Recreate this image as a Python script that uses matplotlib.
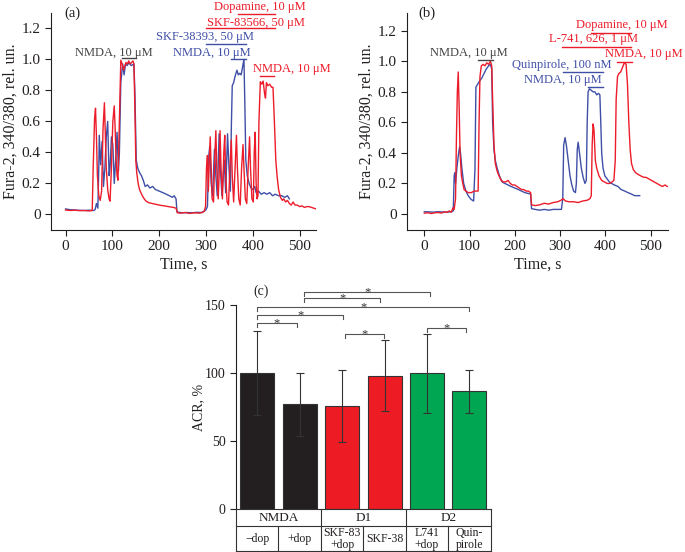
import numpy as np
import matplotlib.pyplot as plt

plt.rcParams['font.family'] = ['Liberation Serif', 'DejaVu Serif']

BLUE = '#3f4fa6'
RED = '#ec1c2a'
DARK = '#231f20'

# ---- panel (a): time (s) / Fura-2 ratio
a_red_t = [0, 10, 20, 30, 40, 50, 57, 59, 62, 64, 66, 68, 71, 74, 77, 80, 83, 85, 87, 90, 93, 95,
           98, 101, 104, 106, 108, 110, 112, 115, 118, 121, 124, 126, 129, 132, 135, 138, 141, 144,
           146, 148, 150, 152, 155, 158, 161, 164, 168, 172, 178, 185, 193, 200, 210, 220, 230, 236,
           239, 245, 255, 265, 275, 285, 292, 296, 299, 301, 303, 305, 307, 309, 311, 313, 316, 319,
           321, 323, 326, 328, 330, 332, 335, 338, 340, 342, 345, 348, 351, 354, 356, 359, 362, 365,
           367, 370, 373, 376, 379, 381, 384, 387, 390, 393, 395, 398, 401, 403, 405, 407, 409, 411,
           413, 416, 419, 422, 425, 427, 429, 432, 436, 440, 443, 446, 449, 452, 455, 459, 463, 466,
           470, 474, 478, 482, 486, 490, 495, 500, 505, 510, 515, 520, 525, 530, 535]
a_red_v = [0.028, 0.025, 0.027, 0.024, 0.025, 0.022, 0.025, 0.3, 0.62, 0.685, 0.5, 0.25, 0.12, 0.09,
           0.15, 0.55, 0.72, 0.5, 0.3, 0.16, 0.1, 0.085, 0.3, 0.6, 0.7, 0.55, 0.35, 0.25, 0.22, 0.6,
           0.995, 0.97, 0.93, 0.95, 0.98, 0.97, 0.99, 0.97, 0.98, 0.99, 0.97, 0.7, 0.35, 0.27, 0.2,
           0.16, 0.14, 0.12, 0.1, 0.085, 0.075, 0.07, 0.065, 0.06, 0.055, 0.05, 0.045, 0.04, 0.01,
           0.008, 0.012, 0.006, 0.01, 0.008, 0.012, 0.02, 0.05, 0.3, 0.38, 0.15, 0.35, 0.5, 0.3,
           0.1, 0.08, 0.4, 0.54, 0.3, 0.1, 0.25, 0.54, 0.3, 0.1, 0.4, 0.51, 0.25, 0.08, 0.06, 0.3,
           0.48, 0.25, 0.08, 0.3, 0.51, 0.3, 0.1, 0.06, 0.3, 0.45, 0.3, 0.1, 0.07, 0.3, 0.5, 0.3,
           0.1, 0.08, 0.4, 0.53, 0.2, 0.1, 0.12, 0.6, 0.856, 0.84, 0.86, 0.78, 0.75, 0.85, 0.83, 0.84,
           0.82, 0.82, 0.6, 0.35, 0.24, 0.16, 0.11, 0.09, 0.1, 0.08, 0.09, 0.07, 0.06, 0.08, 0.06,
           0.06, 0.05, 0.055, 0.045, 0.05, 0.05, 0.045, 0.04, 0.035]

a_blue_t = [0, 10, 20, 30, 40, 50, 60, 63, 66, 69, 71, 72, 75, 78, 81, 84, 87, 90, 93, 95, 98, 101,
            104, 107, 110, 113, 115, 118, 122, 125, 128, 132, 135, 140, 146, 148, 151, 154, 158, 162,
            166, 170, 175, 180, 186, 192, 200, 208, 215, 222, 228, 232, 236, 238, 250, 260, 270, 280,
            290, 296, 300, 303, 306, 308, 311, 314, 318, 321, 324, 328, 331, 334, 339, 342, 346, 349,
            352, 354, 356, 359, 362, 366, 369, 372, 375, 378, 381, 383, 385, 388, 392, 396, 400, 404,
            407, 412, 418, 424, 430, 436, 442, 448, 455, 462, 468, 474, 478]
a_blue_v = [0.035, 0.03, 0.028, 0.026, 0.025, 0.027, 0.025, 0.03, 0.07, 0.04, 0.3, 0.51, 0.32, 0.47,
            0.18, 0.3, 0.5, 0.6, 0.25, 0.3, 0.5, 0.45, 0.2, 0.35, 0.53, 0.28, 0.4, 0.85, 0.97, 0.9,
            0.97, 0.96, 0.98, 0.96, 0.97, 0.8, 0.35, 0.3, 0.27, 0.25, 0.22, 0.18, 0.19, 0.17, 0.18,
            0.16, 0.15, 0.14, 0.13, 0.12, 0.11, 0.12, 0.1, 0.015, 0.01, 0.012, 0.01, 0.013, 0.012,
            0.02, 0.03, 0.05, 0.38, 0.44, 0.2, 0.12, 0.42, 0.25, 0.12, 0.52, 0.28, 0.12, 0.35, 0.14,
            0.52, 0.3, 0.15, 0.55, 0.83, 0.85, 0.89, 0.93, 0.9, 0.91, 0.9, 0.95, 1.0, 0.7, 0.35, 0.25,
            0.2, 0.17, 0.16, 0.18, 0.14, 0.15, 0.13, 0.14, 0.13, 0.14, 0.12, 0.13, 0.12, 0.12, 0.11,
            0.12, 0.1]

# ---- panel (b)
b_red_t = [0, 8, 15, 22, 30, 38, 45, 50, 55, 60, 63, 66, 69, 71, 73, 75, 77, 79, 82, 85, 88, 92, 97,
           104, 110, 116, 119, 121, 123, 126, 130, 134, 138, 142, 146, 149, 151, 154, 157, 161, 165,
           170, 175, 180, 185, 190, 195, 200, 205, 210, 215, 220, 225, 230, 235, 237, 245, 255, 265,
           275, 285, 295, 302, 307, 312, 320, 330, 340, 350, 360, 366, 369, 371, 373, 375, 378, 381,
           386, 392, 398, 404, 410, 415, 419, 422, 424, 427, 430, 434, 438, 442, 446, 449, 452, 455,
           458, 462, 467, 472, 478, 485, 490, 496, 502, 508, 514, 520, 526, 532, 537]
b_red_v = [0.005, 0.008, 0.003, 0.007, 0.01, 0.006, 0.015, 0.01, 0.02, 0.012, 0.04, 0.03, 0.1, 0.5,
           0.8, 0.93, 0.7, 0.4, 0.25, 0.2, 0.16, 0.15, 0.14, 0.14, 0.15, 0.15, 0.15, 0.6, 0.9, 0.97,
           0.98, 0.97, 0.99, 0.98, 1.0, 0.97, 0.75, 0.45, 0.33, 0.28, 0.25, 0.22, 0.21, 0.21, 0.22,
           0.2, 0.19, 0.19, 0.18, 0.17, 0.16, 0.16, 0.15, 0.15, 0.14, 0.06, 0.055, 0.06, 0.07, 0.065,
           0.075, 0.08, 0.09, 0.1, 0.085, 0.08, 0.08, 0.075, 0.085, 0.09, 0.1, 0.12, 0.45, 0.59, 0.55,
           0.35, 0.3, 0.25, 0.22, 0.21, 0.2, 0.2, 0.21, 0.22, 0.35, 0.75, 0.9, 0.92, 0.93, 0.96, 0.99,
           0.98, 0.85, 0.6, 0.42, 0.33, 0.29, 0.27, 0.26, 0.25, 0.24, 0.24, 0.23, 0.22, 0.21, 0.2,
           0.19, 0.18, 0.19, 0.18]

b_blue_t = [0, 10, 20, 30, 40, 50, 60, 64, 66, 67.5, 69, 72, 75, 78, 80, 83, 87, 92, 97, 102, 106,
            109, 112, 114, 118, 122, 127, 132, 137, 142, 146, 149, 151, 154, 157, 161, 166, 172, 178,
            185, 192, 200, 208, 215, 222, 229, 235, 237, 245, 255, 265, 275, 285, 295, 303, 306, 308,
            311, 314, 318, 322, 326, 330, 334, 336, 338, 340, 343, 347, 351, 355, 358, 360, 362, 365,
            369, 373, 377, 381, 385, 388, 390, 392, 395, 399, 404, 409, 414, 420, 428, 435, 443, 450,
            458, 465, 471, 476]
b_blue_v = [0.015, 0.014, 0.012, 0.015, 0.013, 0.012, 0.015, 0.02, 0.25, 0.27, 0.2, 0.3, 0.38, 0.44,
            0.4, 0.3, 0.2, 0.15, 0.12, 0.1, 0.09, 0.085, 0.3, 0.83, 0.85, 0.87, 0.89, 0.92, 0.95, 0.97,
            0.98, 0.95, 0.6, 0.42, 0.35, 0.3, 0.25, 0.21, 0.2, 0.19, 0.18, 0.17, 0.16, 0.15, 0.14,
            0.135, 0.13, 0.035, 0.03, 0.025, 0.03, 0.025, 0.03, 0.03, 0.03, 0.1, 0.45, 0.5, 0.45,
            0.35, 0.25, 0.19, 0.15, 0.14, 0.2, 0.42, 0.47, 0.4, 0.3, 0.24, 0.2, 0.22, 0.6, 0.8, 0.82,
            0.81, 0.8, 0.8, 0.78, 0.79, 0.78, 0.6, 0.4, 0.3, 0.25, 0.23, 0.21, 0.2, 0.19, 0.18, 0.16,
            0.15, 0.14, 0.13, 0.12, 0.12, 0.12]

# ---- panel (c)
c_means = [100, 77, 76, 98, 100, 86.5]
c_sd = [31, 23, 26.5, 26, 29, 15.5]
c_colors = [DARK, DARK, '#ed1c24', '#ed1c24', '#00a651', '#00a651']
c_groups = ['NMDA', 'D1', 'D2']
c_labels = ['\u2212dop', '+dop', 'SKF-83\n+dop', 'SKF-38', 'L741\n+dop', 'Quin-\npirole']
sig_x1 = [0, 0, 0, 1.1, 1.1, 2.08, 4.0]
sig_x2 = [0.93, 2.02, 5.0, 2.9, 4.08, 2.99, 4.93]
sig_y = [137, 142.7, 148.3, 155, 159.8, 128.7, 132.9]

fig = plt.figure(figsize=(6.85, 5.52), dpi=100)


def style_trace_axes(ax, xmax, xmin):
    for s in ['top', 'right']:
        ax.spines[s].set_visible(False)
    for s in ['left', 'bottom']:
        ax.spines[s].set_color(DARK)
        ax.spines[s].set_linewidth(0.8)
    ax.set_xlim(xmin, xmax)
    ax.set_xticks([0, 100, 200, 300, 400, 500])
    ax.set_yticks([0, 0.2, 0.4, 0.6, 0.8, 1.0, 1.2])
    ax.set_yticklabels(['0', '0.2', '0.4', '0.6', '0.8', '1.0', '1.2'])
    ax.tick_params(direction='out', length=4, width=0.8, colors=DARK, labelsize=11)
    ax.set_xlabel('Time, s', fontsize=11.5, color=DARK)
    ax.set_ylabel('Fura-2, 340/380, rel. un.', fontsize=11.5, color=DARK)
    ax.xaxis.set_label_coords(0.5, -0.123)
    ax.xaxis.label.set_va('top')
    ax.yaxis.set_label_coords(-0.124, 0.5)


def mark(ax, text, tx, ty, t0, t1, y, color):
    ax.text(tx, ty, text, color=color, fontsize=9, ha='center', va='center')
    ax.plot([t0, t1], [y, y], color=color, lw=1.0, clip_on=False)


# (a)
ax1 = fig.add_axes([0.0745, 0.5833, 0.3869, 0.3931])
ax1.plot(a_blue_t, a_blue_v, color=BLUE, lw=1.0)
ax1.plot(a_red_t, a_red_v, color=RED, lw=1.0)
ax1.set_ylim(-0.101, 1.299)
style_trace_axes(ax1, 535, -31)
ax1.text(15.5, 1.3, '(a)', fontsize=10.5, ha='center', va='center', color=DARK)
mark(ax1, 'NMDA, 10 \u03bcM', 102.6, 1.04, 120, 151, 1.006, '#444444')
mark(ax1, 'SKF-38393, 50 \u03bcM', 297.5, 1.146, 300, 386, 1.099, BLUE)
mark(ax1, 'NMDA, 10 \u03bcM', 312, 1.043, 353, 386, 1.002, BLUE)
mark(ax1, 'Dopamine, 10 \u03bcM', 414.6, 1.339, 369, 447, 1.29, RED)
mark(ax1, 'SKF-83566, 50 \u03bcM', 405.8, 1.232, 300, 447, 1.2, RED)
mark(ax1, 'NMDA, 10 \u03bcM', 483, 0.935, 415, 445, 0.89, RED)

# (b)
ax2 = fig.add_axes([0.5942, 0.5833, 0.3806, 0.3931])
ax2.plot(b_blue_t, b_blue_v, color=BLUE, lw=1.0)
ax2.plot(b_red_t, b_red_v, color=RED, lw=1.0)
ax2.set_ylim(-0.105, 1.316)
style_trace_axes(ax2, 538, -38.2)
ax2.yaxis.set_label_coords(-0.125, 0.5)
ax2.text(6, 1.316, '(b)', fontsize=10.5, ha='center', va='center', color=DARK)
mark(ax2, 'NMDA, 10 \u03bcM', 98, 1.056, 119, 151, 1.008, '#444444')
mark(ax2, 'Quinpirole, 100 nM', 303.4, 0.973, 307, 394, 0.928, BLUE)
mark(ax2, 'NMDA, 10 \u03bcM', 306.3, 0.877, 361, 395, 0.833, BLUE)
mark(ax2, 'Dopamine, 10 \u03bcM', 436.6, 1.237, 368, 456.5, 1.187, RED)
mark(ax2, 'L-741, 626, 1 \u03bcM', 374, 1.144, 303.4, 456.5, 1.095, RED)
mark(ax2, 'NMDA, 10 \u03bcM', 485, 1.047, 425, 458, 0.997, RED)

# (c)
ax3 = fig.add_axes([0.3445, 0.0774, 0.3718, 0.3701])
x = np.arange(len(c_means))
ax3.bar(x, c_means, width=0.8, color=c_colors, edgecolor='#333333', linewidth=0.8, zorder=2)
ax3.errorbar(x, c_means, yerr=c_sd, fmt='none', ecolor='#333333', elinewidth=0.8,
             capsize=3, capthick=0.8, zorder=3)
ax3.set_xlim(-0.5, 5.5)
ax3.set_ylim(0, 150)
for s in ['top', 'right', 'bottom']:
    ax3.spines[s].set_visible(False)
ax3.spines['left'].set_color(DARK)
ax3.spines['left'].set_linewidth(0.8)
ax3.set_xticks([])
ax3.set_yticks([0, 50, 100, 150])
ax3.tick_params(direction='out', length=4, width=0.8, colors=DARK, labelsize=10)
ax3.set_ylabel('ACR, %', fontsize=10, color=DARK)
ax3.yaxis.set_label_coords(-0.12, 0.5)
ax3.text(0.1, 159.8, '(c)', fontsize=10, ha='center', va='center', color=DARK)
for x1, x2, y in zip(sig_x1, sig_x2, sig_y):
    ax3.plot([x1, x1, x2, x2], [y - 3, y, y, y - 3], color='#555555', lw=0.8, clip_on=False)
    ax3.text((x1 + x2) / 2, y - 2.5, '*', fontsize=9, ha='center', va='baseline', color='#333333')

# table under (c)
axt = fig.add_axes([0.3445, 0.001, 0.3718, 0.0765])
axt.set_xlim(-0.5, 5.5)
axt.set_ylim(0, 42.5)
axt.axis('off')
lc = '#333333'
for yy in [42.3, 25.5, 0.4]:
    axt.plot([-0.5, 5.5], [yy, yy], color=lc, lw=0.8, clip_on=False)
for xx in [-0.5, 1.5, 3.5, 5.5]:
    axt.plot([xx, xx], [0.4, 42.3], color=lc, lw=0.8, clip_on=False)
for xx in [0.5, 2.5, 4.5]:
    axt.plot([xx, xx], [0.4, 25.5], color=lc, lw=0.8, clip_on=False)
for i, g in enumerate(c_groups):
    axt.text(2 * i + 0.5, 34, g, fontsize=9.5, ha='center', va='center', color=DARK)
for i, lab in enumerate(c_labels):
    axt.text(i, 13, lab, fontsize=8.5, ha='center', va='center', color=DARK, linespacing=1.0)

fig.savefig('out.png', dpi=100)
